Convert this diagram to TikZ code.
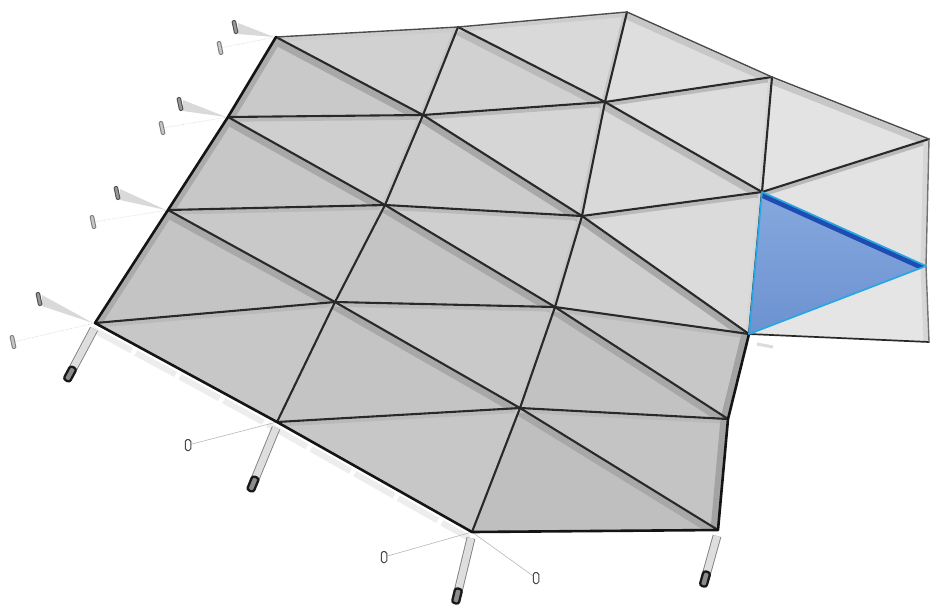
\documentclass[tikz,border=0pt]{standalone}
\usetikzlibrary{calc}
\begin{document}
\begin{tikzpicture}[x=1pt,y=-1pt,
  bar/.style={line width=2.1pt, draw=black!84, line cap=round, line join=round},
  rim/.style={line width=2.6pt, draw=black!92, line cap=round, line join=round},
  topedge/.style={line width=1.4pt, draw=black!70, line join=round},
  diagband/.style={line width=7.5pt, draw=black!34},
  rowband/.style={line width=3.5pt, draw=black!27},
  leg/.style={line width=0.9pt, draw=black!50, double=black!13, double distance=7pt},
  legcap/.style={rectangle, rounded corners=2.5pt, minimum width=15pt, minimum height=7pt,
    inner sep=0pt, draw=black!90, line width=2.3pt, fill=black!45, sloped},
  ring/.style={rectangle, rounded corners=1.8pt, minimum width=5.5pt, minimum height=11pt,
    inner sep=0pt, draw=black!72, line width=1pt, fill=white},
  hook/.style={rectangle, rounded corners=1pt, minimum width=3.5pt, minimum height=13pt,
    inner sep=0pt, draw=black!68, line width=1pt, fill=black!40, rotate=12},
  tie/.style={draw=black!28, line width=0.6pt},
  gutter/.style={draw=black!7, line width=6pt, dash pattern=on 45pt off 5pt},
]
\useasboundingbox (0,0) rectangle (931,611);
\fill[white] (0,0) rectangle (931,611);
\clip (0,0) rectangle (931,611);

% ---------- mesh nodes ----------
\coordinate (a0) at (276,37);  \coordinate (b0) at (458,27);  \coordinate (c0) at (627,12);
\coordinate (a1) at (228,117); \coordinate (b1) at (423,115); \coordinate (c1) at (605,102);
\coordinate (d1) at (772,77);
\coordinate (a2) at (168,210); \coordinate (b2) at (385,205); \coordinate (c2) at (582,216);
\coordinate (d2) at (762,192); \coordinate (e2) at (929,139);
\coordinate (a3) at (95,323);  \coordinate (b3) at (335,302); \coordinate (c3) at (555,307);
\coordinate (d3) at (749,334); \coordinate (e3) at (926,266); \coordinate (f3) at (929,342);
\coordinate (b4) at (277,422); \coordinate (c4) at (520,408); \coordinate (d4) at (728,419);
\coordinate (c5) at (472,532); \coordinate (d5) at (718,530);

% ---------- supports: brackets on the left edge ----------
\coordinate (a0m) at (235,27);  \coordinate (a0n) at (220,48);
\coordinate (a1m) at (180,104); \coordinate (a1n) at (162,128);
\coordinate (a2m) at (117,193); \coordinate (a2n) at (93,222);
\coordinate (a3m) at (39,299);  \coordinate (a3n) at (13,342);
\foreach \v in {a0,a1,a2,a3}{
  \fill[black!15] ($(\v m)+(3,-4)$) -- ($(\v)+(-2,0)$) -- ($(\v m)+(3,7)$) -- cycle;
  \draw[tie, black!18, densely dotted] (\v) -- (\v n);
}
\node[hook] (h0) at (a0m) {}; \node[hook, draw=black!50, fill=black!22] (g0) at (a0n) {};
\node[hook] (h1) at (a1m) {}; \node[hook, draw=black!50, fill=black!22] (g1) at (a1n) {};
\node[hook] (h2) at (a2m) {}; \node[hook, draw=black!50, fill=black!22] (g2) at (a2n) {};
\node[hook] (h3) at (a3m) {}; \node[hook, draw=black!50, fill=black!22] (g3) at (a3n) {};

% ---------- gutter below the lower edge ----------
\draw[gutter] ($(a3)+(-3,6)$) -- ($(b4)+(-3,6)$) -- ($(c5)+(-3,6)$);
\draw[black!14, line width=3pt] ($(d3)+(8,10)$) -- ($(d3)+(24,13)$);

% ---------- supports: legs and ties on the lower edge ----------
\coordinate (a3f) at (70,374);  \coordinate (b4f) at (253,484);
\coordinate (c5f) at (457,596); \coordinate (d5f) at (705,579);
\coordinate (b4t) at (188,445); \coordinate (c5t) at (384,557); \coordinate (c5u) at (536,578);
\draw[tie] (b4) -- (b4t);
\draw[tie] (c5) -- (c5t);
\draw[tie] (c5) -- (c5u);
\node[ring] (r1) at (b4t) {};
\node[ring] (r2) at (c5t) {};
\node[ring] (r3) at (c5u) {};
\draw[leg] ($(a3)+(-1,6)$) -- (a3f) node[legcap, pos=1] (l1) {};
\draw[leg] ($(b4)+(-1,6)$) -- (b4f) node[legcap, pos=1] (l2) {};
\draw[leg] ($(c5)+(-1,6)$) -- (c5f) node[legcap, pos=1] (l3) {};
\draw[leg] ($(d5)+(-1,6)$) -- (d5f) node[legcap, pos=1] (l4) {};

% ---------- glass panes ----------
\newcommand\glasspane[4]{\fill[black!#4] (#1) -- (#2) -- (#3) -- cycle;}
\glasspane{a0}{b0}{b1}{18} \glasspane{a0}{b1}{a1}{21}
\glasspane{b0}{c0}{c1}{15} \glasspane{b0}{c1}{b1}{18}
\glasspane{c0}{d1}{c1}{13}
\glasspane{a1}{b1}{b2}{19} \glasspane{a1}{b2}{a2}{22}
\glasspane{b1}{c1}{c2}{16} \glasspane{b1}{c2}{b2}{20}
\glasspane{c1}{d1}{d2}{13} \glasspane{c1}{d2}{c2}{15}
\glasspane{d1}{e2}{d2}{11}
\glasspane{a2}{b2}{b3}{21} \glasspane{a2}{b3}{a3}{23}
\glasspane{b2}{c2}{c3}{19} \glasspane{b2}{c3}{b3}{23}
\glasspane{c2}{d2}{d3}{14} \glasspane{c2}{d3}{c3}{19}
\glasspane{d2}{e2}{e3}{11} \glasspane{d3}{e3}{f3}{10}
\glasspane{a3}{b3}{b4}{22}
\glasspane{b3}{c3}{c4}{21} \glasspane{b3}{c4}{b4}{23}
\glasspane{c3}{d3}{d4}{22} \glasspane{c3}{d4}{c4}{24}
\glasspane{b4}{c4}{c5}{22}
\glasspane{c4}{d4}{d5}{23} \glasspane{c4}{d5}{c5}{25}

% ---------- shadow sides of the frame members ----------
\begin{scope}
\clip (a0) -- (b0) -- (c0) -- (d1) -- (e2) -- (e3) -- (f3) -- (d3) -- (d4) -- (d5)
      -- (c5) -- (b4) -- (a3) -- (a2) -- (a1) -- cycle;
\begin{scope}[transform canvas={yshift=-4.5pt}]
  \draw[diagband] (a0) -- (b1) -- (c2) -- (d3);
  \draw[diagband] (a1) -- (b2) -- (c3) -- (d4);
  \draw[diagband] (a2) -- (b3) -- (c4) -- (d5);
  \draw[diagband, draw=black!27] (b0) -- (c1) -- (d2);
  \draw[diagband, draw=black!22, line width=6pt] (c0) -- (d1) -- (e2);
\end{scope}
\begin{scope}[transform canvas={yshift=-3pt}]
  \draw[rowband, draw=black!20] (a0) -- (b0) -- (c0);
  \draw[rowband] (a1) -- (b1) -- (c1) -- (d1);
  \draw[rowband] (a2) -- (b2) -- (c2) -- (d2) -- (e2);
  \draw[rowband] (a3) -- (b3) -- (c3) -- (d3);
  \draw[rowband] (b4) -- (c4) -- (d4);
\end{scope}
\draw[line width=6pt, draw=black!33, transform canvas={xshift=4pt}] (a0) -- (a1) -- (a2) -- (a3);
\draw[line width=7pt, draw=black!36, transform canvas={xshift=-4pt}] (d3) -- (d4) -- (d5);
\draw[line width=3pt, draw=black!22, transform canvas={xshift=-2pt}] (b0) -- (b1) -- (b2) -- (b3) -- (b4);
\draw[line width=3pt, draw=black!22, transform canvas={xshift=-2pt}] (c0) -- (c1) -- (c2) -- (c3) -- (c4) -- (c5);
\draw[line width=3pt, draw=black!16, transform canvas={xshift=-2pt}] (d1) -- (d2) -- (d3);
\draw[line width=5pt, draw=black!16, transform canvas={xshift=-3pt}] (e2) -- (e3) -- (f3);
\end{scope}

% ---------- frame members ----------
\draw[bar] (a1) -- (b1) -- (c1) -- (d1);
\draw[bar] (a2) -- (b2) -- (c2) -- (d2) -- (e2);
\draw[bar] (a3) -- (b3) -- (c3) -- (d3);
\draw[bar] (b4) -- (c4) -- (d4);
\draw[bar] (b0) -- (b1) -- (b2) -- (b3) -- (b4);
\draw[bar] (c0) -- (c1) -- (c2) -- (c3) -- (c4) -- (c5);
\draw[bar] (d1) -- (d2) -- (d3);
\draw[bar] (a0) -- (b1) -- (c2) -- (d3);
\draw[bar] (a1) -- (b2) -- (c3) -- (d4);
\draw[bar] (a2) -- (b3) -- (c4) -- (d5);
\draw[bar] (b0) -- (c1) -- (d2);
\draw[bar, line width=1.7pt] (d3) -- (f3);
\draw[topedge, draw=black!55] (e2) -- (e3) -- (f3);
\draw[topedge] (a0) -- (b0) -- (c0) -- (d1) -- (e2);
\draw[rim] (a0) -- (a1) -- (a2) -- (a3) -- (b4) -- (c5) -- (d5) -- (d4) -- (d3);

% ---------- highlighted pane ----------
\fill[top color={rgb,255:red,134;green,168;blue,222}, bottom color={rgb,255:red,108;green,146;blue,208}]
  (d2) -- (e3) -- (d3) -- cycle;
\begin{scope}
  \clip (d2) -- (e3) -- (d3) -- cycle;
  \draw[line width=11pt, draw={rgb,255:red,30;green,76;blue,176}] (d2) -- (e3);
\end{scope}
\draw[line width=1.7pt, draw={rgb,255:red,40;green,166;blue,228}, line join=round]
  (d2) -- (e3) -- (d3) -- cycle;
\end{tikzpicture}
\end{document}
